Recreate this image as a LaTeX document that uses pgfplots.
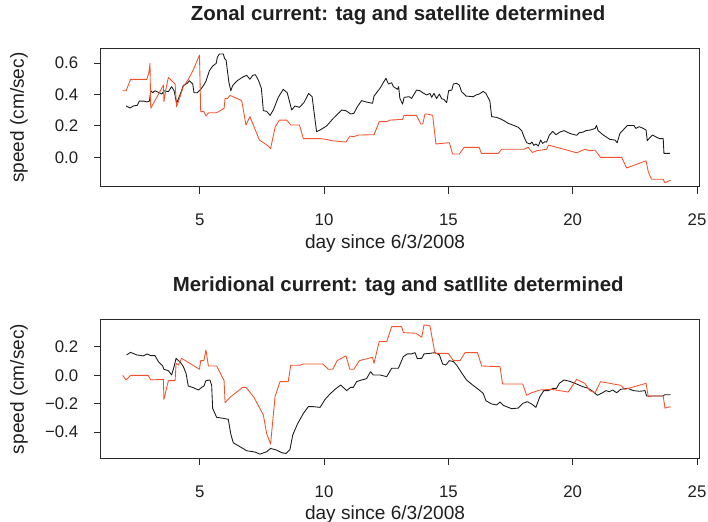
\documentclass[border=0pt]{standalone}
\usepackage{pgfplots}
\pgfplotsset{compat=1.18}
\usepackage{fontspec}
\setmainfont{Liberation Sans}
\definecolor{sat}{RGB}{242,83,43}
\definecolor{tag}{RGB}{25,25,25}
\definecolor{frame}{RGB}{40,40,40}

\pgfplotsset{rstyle/.style={
  scale only axis, width=448.5pt, xmin=1.03, xmax=25.08,
  axis line style={line width=0.75pt, frame},
  tick style={line width=0.75pt, frame},
  major tick length=4.9pt, tick align=outside,
  xtick pos=bottom, ytick pos=left,
  xtick={5,10,15,20,25}, xticklabels={5,10,15,20,25},
  every tick label/.append style={font=\fontsize{12.6}{14}\selectfont, text=black!88},
  xticklabel style={anchor=base, inner sep=0pt, yshift=-24.2pt},
  yticklabel style={anchor=east, inner sep=0pt, xshift=-12pt},
  xlabel={day since 6/3/2008},
  xlabel style={font=\fontsize{14.3}{16}\selectfont, text=black!88, anchor=base, at={(axis description cs:0.475,0)}, yshift=-45.75pt, inner sep=0pt},
  ylabel={speed (cm/sec)},
  ylabel style={font=\fontsize{14.3}{16}\selectfont, text=black!88, at={(axis description cs:-0.1371,0.5)}, anchor=center, inner sep=0pt},
  title style={font=\bfseries\fontsize{15.3}{18}\selectfont, text=black!88, anchor=base, at={(axis description cs:0.497,1)}, yshift=15pt, inner sep=0pt},
  every axis plot/.append style={line width=0.65pt, line join=round},
}}

\begin{document}
\begin{tikzpicture}
\path[use as bounding box] (0,0) rectangle (531pt,391.5pt);

\begin{axis}[rstyle, at={(75.75pt,251.25pt)}, anchor=south west, height=104pt,
  ymin=-0.189, ymax=0.694, ytick={0,0.2,0.4,0.6}, yticklabels={0.0,0.2,0.4,0.6},
  title={Zonal current: tag and satellite determined}]
\addplot[tag] coordinates {
(2.04,0.327)(2.20,0.314)(2.33,0.327)(2.49,0.331)(2.57,0.358)(2.76,0.358)(2.87,0.352)(2.98,0.358)
(3.03,0.424)(3.11,0.411)(3.20,0.424)(3.38,0.411)(3.48,0.403)(3.56,0.424)(3.74,0.418)(3.87,0.450)
(3.97,0.424)(4.07,0.344)(4.23,0.407)(4.34,0.458)(4.50,0.471)(4.58,0.488)(4.72,0.467)(4.77,0.411)
(4.90,0.411)(5.04,0.433)(5.17,0.462)(5.25,0.484)(5.31,0.513)(5.39,0.552)(5.52,0.581)(5.66,0.598)
(5.71,0.637)(5.79,0.658)(5.95,0.658)(6.00,0.628)(6.06,0.620)(6.17,0.482)(6.25,0.424)(6.33,0.458)
(6.51,0.488)(6.75,0.513)(6.89,0.522)(7.02,0.497)(7.13,0.522)(7.24,0.526)(7.37,0.488)(7.48,0.439)
(7.56,0.297)(7.69,0.293)(7.83,0.267)(7.96,0.301)(8.16,0.382)(8.36,0.433)(8.52,0.411)(8.70,0.301)
(8.83,0.327)(9.01,0.318)(9.19,0.348)(9.38,0.407)(9.52,0.386)(9.70,0.163)(9.84,0.174)(10.10,0.199)
(10.37,0.248)(10.71,0.301)(10.88,0.297)(11.07,0.276)(11.20,0.280)(11.34,0.322)(11.51,0.361)
(11.71,0.352)(11.95,0.344)(12.01,0.390)(12.25,0.439)(12.38,0.475)(12.49,0.503)(12.59,0.467)
(12.72,0.475)(12.79,0.450)(12.95,0.433)(13.00,0.450)(13.05,0.375)(13.16,0.339)(13.22,0.382)
(13.43,0.386)(13.52,0.375)(13.72,0.428)(13.86,0.424)(13.97,0.411)(14.13,0.397)(14.26,0.407)
(14.33,0.382)(14.42,0.407)(14.53,0.375)(14.64,0.403)(14.73,0.373)(14.82,0.369)(14.93,0.348)
(15.01,0.424)(15.14,0.428)(15.20,0.467)(15.33,0.471)(15.44,0.460)(15.53,0.418)(15.71,0.390)
(16.00,0.386)(16.11,0.397)(16.24,0.403)(16.40,0.420)(16.51,0.407)(16.67,0.358)(16.74,0.259)
(16.94,0.254)(17.08,0.246)(17.24,0.233)(17.41,0.216)(17.64,0.203)(17.81,0.191)(17.95,0.170)
(18.04,0.131)(18.15,0.093)(18.28,0.085)(18.36,0.097)(18.44,0.076)(18.52,0.085)(18.62,0.072)
(18.71,0.110)(18.79,0.089)(18.88,0.099)(18.95,0.097)(19.06,0.140)(19.19,0.165)(19.33,0.144)
(19.49,0.161)(19.65,0.170)(19.89,0.152)(20.16,0.140)(20.27,0.157)(20.43,0.161)(20.53,0.170)
(20.72,0.174)(20.90,0.184)(20.96,0.203)(21.02,0.170)(21.23,0.142)(21.50,0.114)(21.70,0.110)
(21.79,0.093)(21.90,0.152)(22.03,0.174)(22.20,0.203)(22.33,0.203)(22.46,0.203)(22.54,0.184)
(22.68,0.195)(22.84,0.184)(22.95,0.174)(23.00,0.106)(23.11,0.127)(23.21,0.142)(23.38,0.127)
(23.51,0.119)(23.64,0.119)(23.67,0.025)(23.91,0.025)};
\addplot[sat] coordinates {
(1.90,0.424)(2.04,0.424)(2.22,0.496)(2.87,0.496)(2.95,0.535)(3.00,0.598)(3.03,0.312)(3.54,0.460)
(3.56,0.354)(3.64,0.433)(3.74,0.509)(4.01,0.467)(4.07,0.322)(4.21,0.386)(4.34,0.450)(4.54,0.496)
(4.74,0.556)(4.99,0.651)(5.04,0.291)(5.17,0.291)(5.25,0.263)(5.36,0.284)(5.68,0.284)(5.98,0.312)
(6.02,0.375)(6.11,0.373)(6.22,0.394)(6.69,0.361)(6.86,0.206)(7.02,0.259)(7.40,0.110)(7.56,0.093)
(7.76,0.072)(7.85,0.055)(8.03,0.191)(8.20,0.237)(8.50,0.237)(8.66,0.206)(9.01,0.206)(9.17,0.119)
(9.84,0.119)(10.10,0.114)(10.31,0.106)(10.88,0.097)(11.04,0.135)(11.18,0.131)(11.38,0.142)
(12.01,0.144)(12.22,0.227)(12.52,0.227)(12.65,0.237)(13.16,0.242)(13.22,0.267)(13.72,0.267)
(13.89,0.212)(13.97,0.212)(14.06,0.276)(14.13,0.276)(14.37,0.267)(14.50,0.085)(15.04,0.093)
(15.17,0.021)(15.44,0.021)(15.63,0.063)(16.24,0.063)(16.33,0.025)(17.01,0.025)(17.14,0.051)
(18.04,0.051)(18.21,0.063)(18.38,0.031)(18.55,0.042)(18.95,0.051)(19.03,0.078)(20.16,0.029)
(20.49,0.051)(20.69,0.042)(20.90,0.046)(21.12,0.000)(21.97,0.000)(22.17,-0.068)(22.95,-0.022)
(23.04,-0.092)(23.17,-0.140)(23.64,-0.140)(23.71,-0.162)(23.94,-0.145)};
\end{axis}

\begin{axis}[rstyle, at={(75.75pt,47.475pt)}, anchor=south west, height=104.6pt,
  ymin=-0.587, ymax=0.394, ytick={-0.4,-0.2,0,0.2}, yticklabels={−0.4,−0.2,0.0,0.2},
  title={Meridional current: tag and satllite determined}]
\addplot[tag] coordinates {
(2.06,0.143)(2.22,0.161)(2.47,0.143)(2.73,0.136)(2.89,0.150)(3.03,0.138)(3.20,0.138)(3.34,0.096)
(3.51,0.065)(3.56,0.042)(3.74,0.032)(3.87,0.002)(3.97,0.061)(4.05,0.119)(4.23,0.089)(4.34,0.061)
(4.45,0.014)(4.54,-0.076)(4.74,-0.087)(4.95,-0.104)(5.08,-0.085)(5.17,-0.076)(5.25,-0.038)
(5.41,-0.033)(5.48,-0.069)(5.52,-0.233)(5.68,-0.296)(5.95,-0.303)(6.15,-0.310)(6.25,-0.414)
(6.35,-0.475)(6.62,-0.503)(6.89,-0.531)(7.22,-0.540)(7.42,-0.555)(7.69,-0.538)(7.85,-0.515)
(8.09,-0.526)(8.30,-0.545)(8.47,-0.550)(8.63,-0.522)(8.74,-0.421)(8.93,-0.343)(9.17,-0.268)
(9.37,-0.221)(9.57,-0.221)(9.84,-0.226)(10.04,-0.170)(10.24,-0.132)(10.44,-0.099)(10.67,-0.069)
(10.91,-0.108)(11.07,-0.085)(11.18,-0.085)(11.31,-0.045)(11.51,-0.033)(11.71,-0.024)(11.87,0.025)
(11.98,0.002)(12.25,0.002)(12.52,-0.010)(12.72,0.049)(12.99,0.049)(13.19,0.131)(13.35,0.150)
(13.52,0.150)(13.66,0.159)(13.75,0.117)(13.93,0.119)(14.02,0.150)(14.26,0.154)(14.46,0.159)
(14.64,0.143)(14.77,0.079)(14.90,0.072)(15.04,0.103)(15.20,0.096)(15.33,0.072)(15.53,0.018)
(15.73,-0.033)(15.98,-0.069)(16.24,-0.104)(16.40,-0.127)(16.51,-0.179)(16.74,-0.202)(16.94,-0.209)
(17.08,-0.188)(17.21,-0.212)(17.54,-0.235)(17.81,-0.231)(17.99,-0.198)(18.17,-0.186)(18.35,-0.202)
(18.52,-0.226)(18.68,-0.151)(18.84,-0.108)(19.02,-0.108)(19.22,-0.092)(19.35,-0.092)(19.46,-0.057)
(19.65,-0.033)(19.89,-0.043)(20.16,-0.062)(20.40,-0.080)(20.63,-0.092)(20.83,-0.116)(20.99,-0.141)
(21.16,-0.127)(21.34,-0.108)(21.47,-0.116)(21.61,-0.104)(21.77,-0.123)(21.93,-0.099)(22.20,-0.092)
(22.44,-0.108)(22.70,-0.113)(22.91,-0.108)(22.97,-0.146)(23.17,-0.146)(23.64,-0.146)(23.70,-0.137)
(23.94,-0.137)};
\addplot[sat] coordinates {
(1.90,-0.001)(2.04,-0.033)(2.22,-0.001)(2.93,-0.001)(3.03,-0.033)(3.54,-0.029)(3.56,-0.170)
(3.74,-0.038)(4.01,-0.038)(4.05,0.084)(4.14,0.072)(4.27,0.119)(4.99,0.042)(5.04,0.103)(5.17,0.103)
(5.25,0.178)(5.35,0.065)(5.68,0.065)(5.98,-0.038)(6.02,-0.193)(6.22,-0.155)(6.73,-0.085)
(6.86,-0.085)(7.18,-0.155)(7.56,-0.280)(7.69,-0.409)(7.85,-0.484)(8.03,-0.151)(8.23,-0.045)
(8.56,-0.045)(8.66,0.070)(9.03,0.070)(9.17,0.079)(9.95,0.079)(10.04,0.065)(10.17,0.042)
(10.35,0.042)(10.53,0.103)(10.88,0.136)(11.04,0.042)(11.20,0.042)(11.42,0.103)(11.95,0.126)
(12.01,0.084)(12.22,0.237)(12.52,0.237)(12.72,0.342)(13.12,0.342)(13.19,0.300)(13.70,0.295)
(13.93,0.267)(14.02,0.354)(14.26,0.347)(14.46,0.154)(15.00,0.154)(15.20,0.103)(15.47,0.103)
(15.67,0.159)(16.17,0.159)(16.34,0.065)(17.08,0.060)(17.18,-0.062)(17.99,-0.062)(18.15,-0.141)
(18.35,-0.123)(18.68,-0.104)(19.15,-0.099)(19.82,-0.118)(20.16,-0.029)(20.49,-0.057)(20.69,-0.108)
(20.90,-0.123)(21.12,-0.045)(21.93,-0.071)(22.10,-0.099)(22.95,-0.057)(23.04,-0.151)(23.17,-0.146)
(23.64,-0.146)(23.71,-0.231)(23.94,-0.221)};
\end{axis}
\end{tikzpicture}
\end{document}
